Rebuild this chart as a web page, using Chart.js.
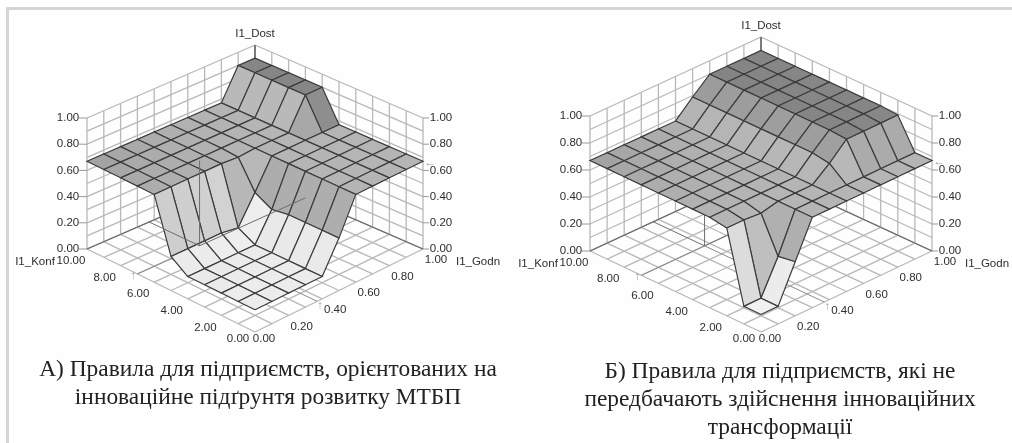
<!DOCTYPE html>
<html>
<head>
<meta charset="utf-8">
<script src="https://cdn.jsdelivr.net/npm/chart.js@4"></script>
<style>
  html, body { margin: 0; padding: 0; background: #fff; }
  #page { position: relative; width: 1012px; height: 443px; overflow: hidden; background: #fefefe; }
  #frame { position: absolute; left: 6px; top: 7px; width: 1006px; height: 436px; border-left: 3px solid #d4d4d4; border-top: 3px solid #d4d4d4; box-sizing: border-box; }
  canvas { position: absolute; top: 0; filter: blur(0.55px); }
  #chartA { left: 0; }
  #chartB { left: 506px; }
  .caption { position: absolute; text-align: center; font-family: "Liberation Serif", serif; font-size: 23.4px; line-height: 28px; color: #222; white-space: nowrap; filter: blur(0.4px); }
  #capA { left: 18px; width: 500px; top: 354px; }
  #capB { left: 530px; width: 500px; top: 356px; }
</style>
</head>
<body>
<div id="page">
  <div id="frame"></div>
  <canvas id="chartA" width="506" height="352"></canvas>
  <canvas id="chartB" width="506" height="352"></canvas>
  <div class="caption" id="capA">А) Правила для підприємств, орієнтованих на<br>інноваційне підґрунтя розвитку МТБП</div>
  <div class="caption" id="capB">Б) Правила для підприємств, які не<br>передбачають здійснення інноваційних<br>трансформації</div>
</div>
<script>
// Axis values
const konfTicks = [0, 2, 4, 6, 8, 10];
const godnTicks = [0, 0.2, 0.4, 0.6, 0.8, 1];
const dostTicks = [0, 0.2, 0.4, 0.6, 0.8, 1];
const konfGrid = [0, 1, 2, 3, 4, 5, 6, 7, 8, 9, 10];
const godnGrid = [0, 0.1, 0.2, 0.3, 0.4, 0.5, 0.6, 0.7, 0.8, 0.9, 1];
const dostGrid = [0, 0.1, 0.2, 0.3, 0.4, 0.5, 0.6, 0.7, 0.8, 0.9, 1];

// I1_Dost, one row per I1_Konf value, one column per I1_Godn value
const surfaceA = [
  [0.17, 0.17, 0.17, 0.17, 0.17, 0.40, 0.67, 0.67, 0.67, 0.67, 0.67],
  [0.17, 0.17, 0.17, 0.17, 0.17, 0.40, 0.67, 0.67, 0.67, 0.67, 0.67],
  [0.17, 0.17, 0.17, 0.17, 0.17, 0.40, 0.67, 0.67, 0.67, 0.67, 0.67],
  [0.17, 0.17, 0.17, 0.17, 0.17, 0.40, 0.67, 0.67, 0.67, 0.67, 0.67],
  [0.17, 0.17, 0.17, 0.17, 0.17, 0.38, 0.67, 0.67, 0.67, 0.67, 0.67],
  [0.26, 0.26, 0.26, 0.26, 0.24, 0.45, 0.67, 0.67, 0.67, 0.67, 0.67],
  [0.67, 0.67, 0.67, 0.67, 0.67, 0.66, 0.67, 0.67, 0.67, 0.90, 0.90],
  [0.67, 0.67, 0.67, 0.67, 0.67, 0.67, 0.67, 0.67, 0.67, 0.90, 0.90],
  [0.67, 0.67, 0.67, 0.67, 0.67, 0.67, 0.67, 0.67, 0.67, 0.90, 0.90],
  [0.67, 0.67, 0.67, 0.67, 0.67, 0.67, 0.67, 0.67, 0.67, 0.90, 0.90],
  [0.67, 0.67, 0.67, 0.67, 0.67, 0.67, 0.67, 0.67, 0.67, 0.90, 0.90]
];
const surfaceB = [
  [0.13, 0.13, 0.40, 0.67, 0.67, 0.67, 0.67, 0.67, 0.67, 0.67, 0.67],
  [0.13, 0.13, 0.38, 0.67, 0.67, 0.67, 0.67, 0.67, 0.67, 0.67, 0.67],
  [0.65, 0.65, 0.64, 0.67, 0.67, 0.67, 0.77, 0.89, 0.89, 0.89, 0.89],
  [0.67, 0.67, 0.67, 0.67, 0.67, 0.67, 0.79, 0.90, 0.90, 0.90, 0.90],
  [0.67, 0.67, 0.67, 0.67, 0.67, 0.67, 0.79, 0.90, 0.90, 0.90, 0.90],
  [0.67, 0.67, 0.67, 0.67, 0.67, 0.67, 0.79, 0.90, 0.90, 0.90, 0.90],
  [0.67, 0.67, 0.67, 0.67, 0.67, 0.67, 0.79, 0.90, 0.90, 0.90, 0.90],
  [0.67, 0.67, 0.67, 0.67, 0.67, 0.67, 0.79, 0.90, 0.90, 0.90, 0.90],
  [0.67, 0.67, 0.67, 0.67, 0.67, 0.67, 0.79, 0.90, 0.90, 0.90, 0.90],
  [0.67, 0.67, 0.67, 0.67, 0.67, 0.67, 0.79, 0.90, 0.90, 0.90, 0.90],
  [0.67, 0.67, 0.67, 0.67, 0.67, 0.67, 0.79, 0.90, 0.90, 0.90, 0.90]
];

// Input markers of the surface viewer: [konf, godn, dost]
const markerA = [7, 0.37, 0.65];
const markerB = [7, 0.37, 0.67];

const viewA = { ox: 255, oy: 332, halfW: 168, halfH: 83, zH: 131, skew: 10, backSlope: -16, markerOnTop: true };
const viewB = { ox: 255, oy: 332, halfW: 171, halfH: 81, zH: 135, skew: 2, backSlope: 12, markerOnTop: false };

// 3D point -> chart units (pixels from the front corner of the floor)
function project(view, konf, godn, dost) {
  const u = konf / 10;
  return {
    x: view.halfW * (godn - u),
    y: view.halfH * (u + godn) - view.skew * u * godn + view.zH * dost
  };
}

// Grey of a face: darker when high, corrected for the way the slope faces
function faceColor(view, zs, i, j) {
  const zm = (zs[0] + zs[1] + zs[2] + zs[3]) / 4;
  const dk = (zs[2] + zs[3] - zs[0] - zs[1]) / 2;
  const dg = (zs[1] + zs[2] - zs[0] - zs[3]) / 2;
  let g = zm > 0.67 ? 182 - (zm - 0.67) * 210 : 255 - 110 * zm;
  if (dg > 0.05) {
    if (zm > 0.6) g += dg * 120;
    else g += zm < 0.35 ? 10 : -22;
  }
  if (dk > 0.05) g += zm < 0.6 ? 8 : view.backSlope;
  const side = (i + 0.5) / 10 * (1 - (j + 0.5) / 10);
  g -= 22 * side * side;
  g = Math.round(g);
  return 'rgb(' + g + ',' + g + ',' + g + ')';
}

function lineSet(points, color, width) {
  return { data: points, showLine: true, fill: false, pointRadius: 0, borderColor: color, borderWidth: width };
}

function buildDatasets(view, surface, marker) {
  const sets = [];
  const [mk, mg, mz] = marker;

  // the input lines show through the surface in the first panel
  const through = [
    lineSet([project(view, mk, mg, 0), project(view, mk, mg, mz)], '#6e6e6e', 1),
    lineSet([project(view, mk, mg, 0), project(view, mk, 1, 0)], '#6e6e6e', 1),
    lineSet([project(view, mk, mg, 0), project(view, 10, mg, 0)], '#6e6e6e', 1)
  ];
  if (view.markerOnTop) sets.push(...through);

  // surface, nearest cell first because chart.js paints the first dataset last
  const cells = [];
  for (let i = 0; i < konfGrid.length - 1; i++) {
    for (let j = 0; j < godnGrid.length - 1; j++) cells.push([i, j]);
  }
  cells.sort((a, b) => (a[0] + a[1]) - (b[0] + b[1]));
  cells.forEach(([i, j]) => {
    const zs = [surface[i][j], surface[i][j + 1], surface[i + 1][j + 1], surface[i + 1][j]];
    const pts = [
      project(view, konfGrid[i], godnGrid[j], zs[0]),
      project(view, konfGrid[i], godnGrid[j + 1], zs[1]),
      project(view, konfGrid[i + 1], godnGrid[j + 1], zs[2]),
      project(view, konfGrid[i + 1], godnGrid[j], zs[3]),
      project(view, konfGrid[i], godnGrid[j], zs[0])
    ];
    sets.push({
      data: pts, showLine: true, fill: 'shape', backgroundColor: faceColor(view, zs, i, j),
      pointRadius: 0, borderColor: '#3c3c3c', borderWidth: 1.2
    });
  });

  if (!view.markerOnTop) sets.push(...through);
  sets.push(lineSet([project(view, mk, 0, 0), project(view, mk, mg, 0)], '#8a8a8a', 1));
  sets.push(lineSet([project(view, 0, mg, 0), project(view, mk, mg, 0)], '#8a8a8a', 1));

  // back axis and dark floor edges
  sets.push(lineSet([project(view, 10, 1, 0.8), project(view, 10, 1, 1)], '#555', 1.3));
  sets.push(lineSet([project(view, 10, 0, 0), project(view, 10, 1, 0)], '#6a6a6a', 1.3));
  sets.push(lineSet([project(view, 0, 1, 0), project(view, 10, 1, 0)], '#6a6a6a', 1.3));

  // floor and the two back walls
  const gridColor = '#b8b8b8';
  konfGrid.forEach(k => {
    sets.push(lineSet([project(view, k, 0, 0), project(view, k, 1, 0)], gridColor, 1.3));
    sets.push(lineSet([project(view, k, 1, 0), project(view, k, 1, 1)], gridColor, 1.3));
  });
  godnGrid.forEach(g => {
    sets.push(lineSet([project(view, 0, g, 0), project(view, 10, g, 0)], gridColor, 1.3));
    sets.push(lineSet([project(view, 10, g, 0), project(view, 10, g, 1)], gridColor, 1.3));
  });
  dostGrid.forEach(z => {
    sets.push(lineSet([project(view, 10, 0, z), project(view, 10, 1, z)], gridColor, 1.3));
    sets.push(lineSet([project(view, 0, 1, z), project(view, 10, 1, z)], gridColor, 1.3));
  });
  return sets;
}

// Tick labels and axis names, placed through the chart scales
function labelsPlugin(view, marker) {
  return {
    id: 'axisLabels',
    afterDatasetsDraw(chart) {
      const { ctx, scales: { x, y } } = chart;
      const at = (p) => [x.getPixelForValue(p.x), y.getPixelForValue(p.y)];
      ctx.save();
      ctx.font = '11.5px "Liberation Sans", Arial, sans-serif';
      ctx.fillStyle = '#2e2e2e';
      ctx.textAlign = 'center';
      ctx.textBaseline = 'middle';

      dostTicks.forEach(z => {
        const [lx, ly] = at(project(view, 10, 0, z));
        const [rx, ry] = at(project(view, 0, 1, z));
        ctx.strokeStyle = '#999';
        ctx.beginPath();
        ctx.moveTo(lx - 8, ly); ctx.lineTo(lx, ly);
        ctx.moveTo(rx, ry); ctx.lineTo(rx + 6, ry);
        ctx.stroke();
        ctx.fillText(z.toFixed(2), lx - 19, ly);
        ctx.fillText(z.toFixed(2), rx + 18, ry);
      });
      konfTicks.forEach(k => {
        const [px, py] = at(project(view, k, 0, 0));
        ctx.fillText(k.toFixed(2), px - (k === 0 ? 17 : 16), py + (k === 0 ? 7 : 12));
      });
      godnTicks.forEach(g => {
        const [px, py] = at(project(view, 0, g, 0));
        ctx.fillText(g.toFixed(2), px + (g === 0 ? 9 : 13), py + (g === 0 ? 7 : 11));
      });

      const [bx, by] = at(project(view, 10, 1, 1));
      ctx.fillText('I1_Dost', bx, by - 11);
      const [cx, cy] = at(project(view, 10, 0, 0));
      ctx.fillText('I1_Konf', cx - 52, cy + 13);
      const [gx, gy] = at(project(view, 0, 1, 0));
      ctx.fillText('I1_Godn', gx + 55, gy + 13);

      // input arrows
      ctx.fillStyle = '#9a9a9a';
      const [ax, ay] = at(project(view, marker[0], 0, 0));
      ctx.fillText('↑', ax - 4, ay + 2);
      const [ex, ey] = at(project(view, 0, 0.4, 0));
      ctx.fillText('↑', ex - 2, ey + 7);
      const [hx, hy] = at(project(view, 0, 1, 0.66));
      ctx.fillText('←', hx + 7, hy);
      ctx.restore();
    }
  };
}

function makeChart(id, view, surface, marker) {
  const canvas = document.getElementById(id);
  return new Chart(canvas.getContext('2d'), {
    type: 'scatter',
    data: { datasets: buildDatasets(view, surface, marker) },
    options: {
      responsive: false,
      animation: false,
      devicePixelRatio: 1,
      layout: { padding: 0 },
      plugins: { legend: { display: false }, tooltip: { enabled: false } },
      scales: {
        x: { type: 'linear', display: false, min: -view.ox, max: canvas.width - view.ox },
        y: { type: 'linear', display: false, min: view.oy - canvas.height, max: view.oy }
      }
    },
    plugins: [labelsPlugin(view, marker)]
  });
}

makeChart('chartA', viewA, surfaceA, markerA);
makeChart('chartB', viewB, surfaceB, markerB);
</script>
</body>
</html>
